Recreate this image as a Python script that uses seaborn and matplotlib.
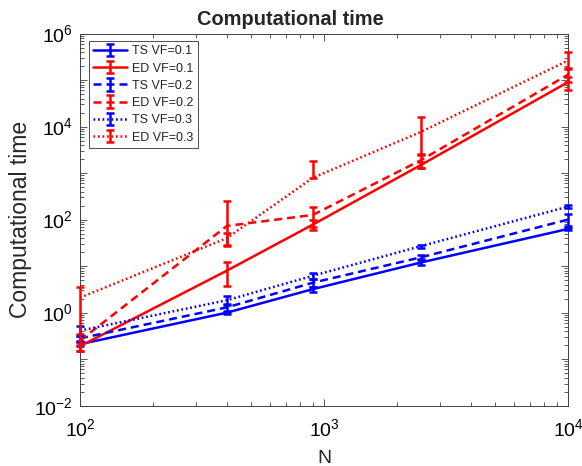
import numpy as np
import pandas as pd
import matplotlib
matplotlib.use("Agg")
import matplotlib.pyplot as plt
import seaborn as sns
from matplotlib.ticker import FixedLocator, FuncFormatter, NullFormatter

# ---------------- data ----------------
N = [100, 400, 900, 2500, 10000]

ts01 = [0.21, 1.0, 3.2, 12, 63]
ts01_lo = [0.02, 0.08, 0.4, 1.5, 4]
ts01_hi = [0.02, 0.08, 0.4, 1.5, 4]

ed01 = [0.19, 8.0, 78, 1500, 90000]
ed01_lo = [0.04, 4.3, 19, 200, 29000]
ed01_hi = [0.04, 4.3, 19, 200, 29000]

ts02 = [0.28, 1.3, 4.4, 15.5, 100]
ts02_lo = [0.03, 0.25, 0.8, 1.5, 28]
ts02_hi = [0.03, 0.25, 0.8, 1.5, 35]

ed02 = [0.25, 73, 126, 1900, 130000]
ed02_lo = [0.1, 45, 55, 600, 38000]
ed02_hi = [0.1, 172, 60, 650, 45000]

ts03 = [0.41, 1.85, 6.2, 27, 190]
ts03_lo = [0.1, 0.4, 1.0, 2, 15]
ts03_hi = [0.1, 0.4, 1.0, 2, 15]

ed03 = [2.1, 40, 790, 7700, 263000]
ed03_lo = [1.9, 13, 0, 5200, 80000]
ed03_hi = [1.5, 12, 1070, 8700, 147000]

labels = ["TS VF=0.1", "ED VF=0.1", "TS VF=0.2", "ED VF=0.2", "TS VF=0.3", "ED VF=0.3"]
series = [ts01, ed01, ts02, ed02, ts03, ed03]
lows = [ts01_lo, ed01_lo, ts02_lo, ed02_lo, ts03_lo, ed03_lo]
highs = [ts01_hi, ed01_hi, ts02_hi, ed02_hi, ts03_hi, ed03_hi]
colors = ["#0000ff", "#ff0000", "#0000ff", "#ff0000", "#0000ff", "#ff0000"]
LW = 1.8
styles = ["-", "-", (0, (3.2, 2.0)), (0, (3.2, 2.0)), (0, (0.7, 1.1)), (0, (0.7, 1.1))]

# ---------------- style ----------------
sns.set_style("ticks")
plt.rcParams["font.family"] = ["Liberation Sans", "DejaVu Sans"]
plt.rcParams["mathtext.fontset"] = "custom"
plt.rcParams["mathtext.rm"] = "Liberation Sans"
plt.rcParams["mathtext.default"] = "regular"

fig = plt.figure(figsize=(5.82, 4.66), dpi=100)
ax = fig.add_axes([80 / 582, 1 - 405.7 / 466, (568 - 80) / 582, (405.7 - 33.5) / 466])

handles = []
for vals, lo, hi, c, ls, lab in zip(series, lows, highs, colors, styles, labels):
    df = pd.DataFrame({"N": N, "t": vals})
    sns.lineplot(data=df, x="N", y="t", ax=ax, color=c, linestyle=ls, lw=LW,
                 sort=False, legend=False, estimator=None)
    line = ax.get_lines()[-1]
    line.set_zorder(3)
    eb = ax.errorbar(N, vals, yerr=[lo, hi], fmt="none", ecolor=c,
                     elinewidth=LW, capsize=3.2, capthick=LW, zorder=3)
    for cap in eb[1]:
        cap.set_clip_on(False)
    for bl in eb[2]:
        bl.set_clip_on(False)
    handles.append((line, eb))

ax.set_xscale("log")
ax.set_yscale("log")
ax.set_xlim(100, 10000)
ax.set_ylim(1e-2, 1e6)

ax.xaxis.set_major_locator(FixedLocator([1e2, 1e3, 1e4]))
ax.xaxis.set_minor_locator(FixedLocator([k * 10 ** e for e in (2, 3) for k in range(2, 10)]))
ax.yaxis.set_major_locator(FixedLocator([10.0 ** e for e in range(-2, 7)]))
ax.yaxis.set_minor_locator(FixedLocator([k * 10.0 ** e for e in range(-2, 6) for k in range(2, 10)]))
ax.xaxis.set_minor_formatter(NullFormatter())
ax.yaxis.set_minor_formatter(NullFormatter())

def yfmt(v, pos):
    e = int(round(np.log10(v)))
    return r"$10^{%d}$" % e if e % 2 == 0 else ""

ax.yaxis.set_major_formatter(FuncFormatter(yfmt))
ax.xaxis.set_major_formatter(FuncFormatter(lambda v, p: r"$10^{%d}$" % int(round(np.log10(v)))))

ax.tick_params(which="both", direction="in", top=True, right=True, color="0.25",
               width=0.6, labelsize=14, labelcolor="black")
ax.tick_params(which="major", length=5)
ax.tick_params(axis="x", which="major", pad=9)
ax.tick_params(axis="y", which="major", pad=5)
ax.tick_params(which="minor", length=2.8)
for s in ax.spines.values():
    s.set_color("0.25")
    s.set_linewidth(0.7)
    s.set_zorder(2)

ax.set_xlabel("N", fontsize=14, labelpad=7)
ax.set_ylabel("Computational time", fontsize=16.5, labelpad=2)
ax.set_title("Computational time", fontsize=14.4, fontweight="bold", pad=6,
             x=(290 - 80) / 488)

leg = ax.legend(handles, labels, loc="upper left", bbox_to_anchor=(0.018, 0.98),
                borderaxespad=0, fontsize=9, handlelength=2.7, labelspacing=0.42,
                handletextpad=0.4, borderpad=0.35, fancybox=False, framealpha=1,
                edgecolor="0.3")
leg.get_frame().set_linewidth(0.7)
leg.set_zorder(5)

fig.savefig("out.png", dpi=100)
